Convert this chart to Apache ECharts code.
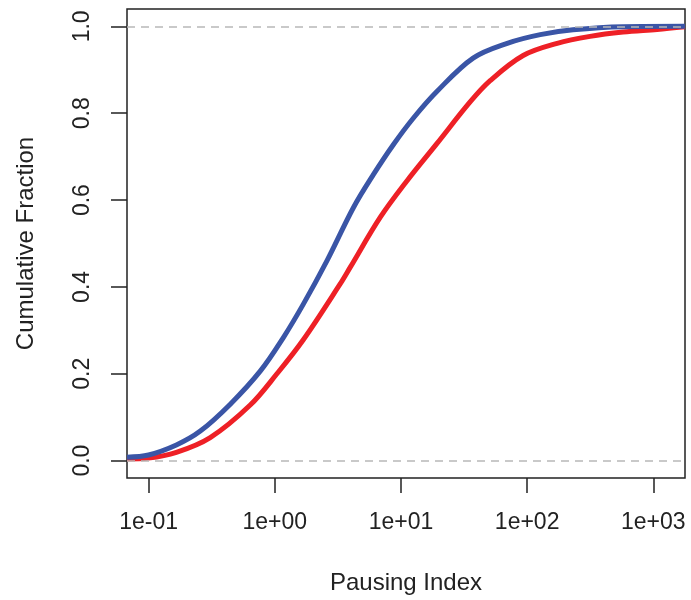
<!DOCTYPE html>
<html>
<head>
<meta charset="utf-8">
<script src="https://cdn.jsdelivr.net/npm/echarts@6/dist/echarts.min.js"></script>
<style>
html,body{margin:0;padding:0;background:#fff;}
#chart{width:691px;height:600px;}
</style>
</head>
<body>
<div id="chart"></div>
<script>
// Pausing index (x) and cumulative fraction (y)
var blueX = [0.0675, 0.1, 0.166, 0.257, 0.444, 0.767, 1.173, 1.689, 2.589, 4.206, 6.057, 8.723, 12.56, 19.25, 37.3, 69.5, 127, 231, 576, 1780];
var blueY = [0.008, 0.013, 0.036, 0.068, 0.130, 0.206, 0.284, 0.361, 0.460, 0.583, 0.659, 0.728, 0.789, 0.850, 0.927, 0.961, 0.981, 0.992, 0.999, 1.000];
var redX  = [0.0675, 0.1, 0.166, 0.308, 0.639, 1.040, 1.689, 3.299, 3.958, 6.843, 11.14, 19.25, 35.32, 50.9, 93.0, 173, 315, 576, 1070, 1780];
var redY  = [0.004, 0.006, 0.019, 0.053, 0.128, 0.200, 0.279, 0.407, 0.445, 0.560, 0.644, 0.730, 0.826, 0.875, 0.933, 0.961, 0.977, 0.987, 0.993, 0.999];
var xTickExponents = [-1, 0, 1, 2, 3];
var yTicks = [0, 0.2, 0.4, 0.6, 0.8, 1.0];
var refLines = [0, 1];

function pairs(xs, ys) {
  return xs.map(function (x, i) { return [Math.log10(x), ys[i]]; });
}
function expLabel(v) {
  var e = Math.round(v);
  var s = Math.abs(e) < 10 ? '0' + Math.abs(e) : '' + Math.abs(e);
  return '1e' + (e < 0 ? '-' : '+') + s;
}

var font = 'Liberation Sans, Arial, sans-serif';
var ink = '#222222';
var chart = echarts.init(document.getElementById('chart'), null, {renderer: 'canvas'});
chart.setOption({
  animation: false,
  backgroundColor: '#ffffff',
  grid: {left: 127, right: 6, top: 9, bottom: 122, show: true, borderColor: ink, borderWidth: 1.5, backgroundColor: 'transparent'},
  xAxis: {
    type: 'value', min: -1.171, max: 3.251,
    name: 'Pausing Index', nameLocation: 'middle', nameGap: 93,
    nameTextStyle: {fontFamily: font, fontSize: 24, color: ink},
    axisLine: {show: false, onZero: false},
    splitLine: {show: false},
    axisTick: {show: true, length: 15, lineStyle: {color: ink, width: 1.5}, customValues: xTickExponents},
    axisLabel: {fontFamily: font, fontSize: 23, color: ink, margin: 33, customValues: xTickExponents, formatter: expLabel}
  },
  yAxis: {
    type: 'value', min: -0.04, max: 1.04,
    name: 'Cumulative Fraction', nameLocation: 'middle', nameGap: 89,
    nameTextStyle: {fontFamily: font, fontSize: 24, color: ink},
    axisLine: {show: false, onZero: false},
    splitLine: {show: false},
    axisTick: {show: true, length: 16, lineStyle: {color: ink, width: 1.5}, customValues: yTicks},
    axisLabel: {fontFamily: font, fontSize: 23, color: ink, rotate: 90, margin: 33, customValues: yTicks,
      formatter: function (v) { return (+v).toFixed(1); }}
  },
  series: [
    {
      type: 'line', name: 'red', data: pairs(redX, redY), smooth: 0.35, symbol: 'none',
      lineStyle: {color: '#EE2026', width: 5}, z: 2
    },
    {
      type: 'line', name: 'blue', data: pairs(blueX, blueY), smooth: 0.35, symbol: 'none',
      lineStyle: {color: '#3A55A6', width: 5}, z: 3,
      markLine: {
        silent: true, symbol: 'none', label: {show: false},
        lineStyle: {color: '#b8b8b8', type: [8, 6], width: 1.5},
        data: refLines.map(function (v) { return {yAxis: v}; })
      }
    }
  ]
});
</script>
</body>
</html>
